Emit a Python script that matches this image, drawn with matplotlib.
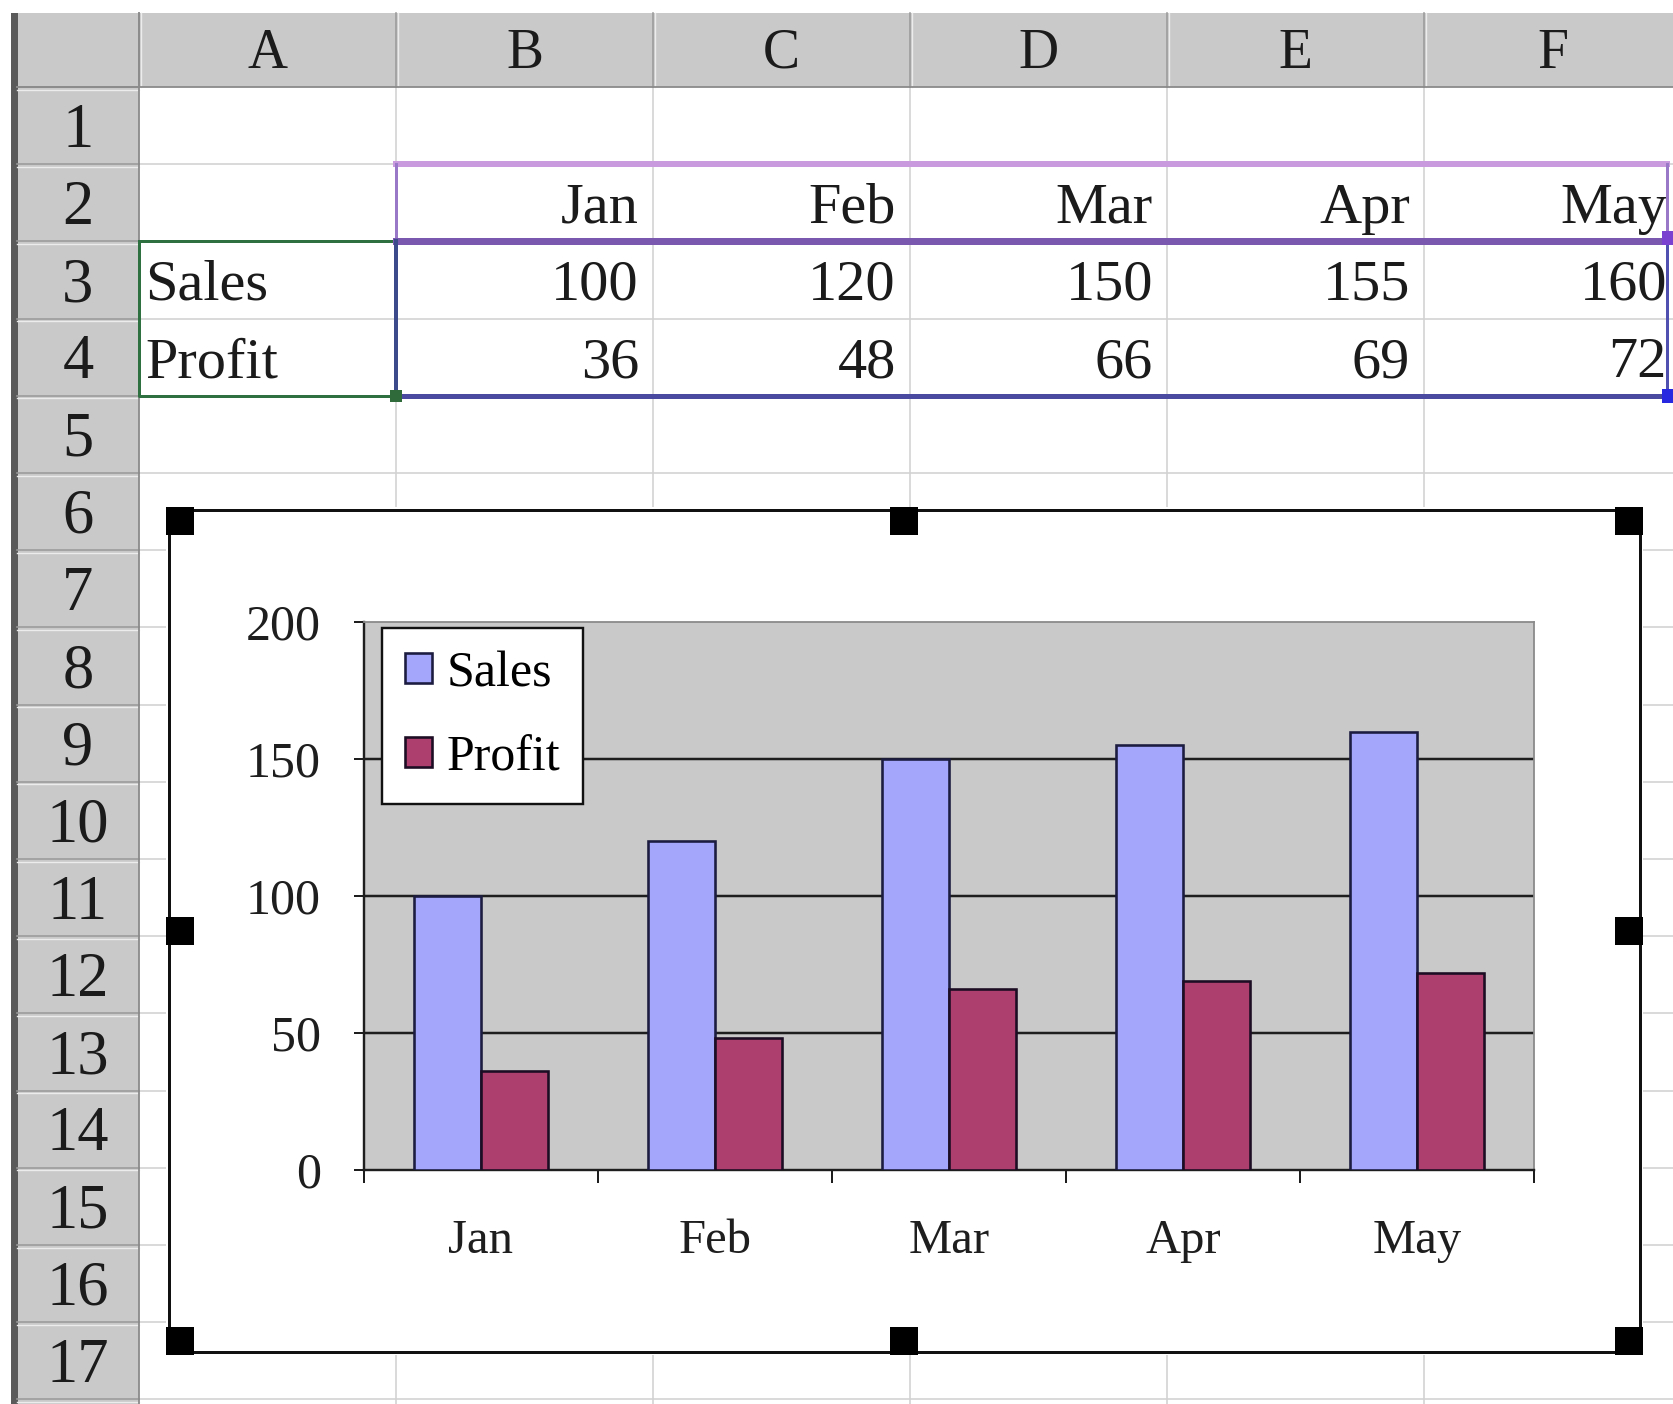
import numpy as np
import matplotlib.pyplot as plt
from matplotlib.patches import Rectangle

# data
months = ["Jan", "Feb", "Mar", "Apr", "May"]
sales = [100, 120, 150, 155, 160]
profit = [36, 48, 66, 69, 72]
col_letters = ["A", "B", "C", "D", "E", "F"]
row_numbers = list(range(1, 18))
y_ticks = [0, 50, 100, 150, 200]

W, H = 1674, 1404
PX = 0.72  # points per pixel at dpi 100

plt.rcParams['font.family'] = ['Liberation Serif', 'DejaVu Serif']

fig = plt.figure(figsize=(W / 100, H / 100), dpi=100)
bg = fig.add_axes([0, 0, 1, 1])
bg.set_xlim(0, W)
bg.set_ylim(H, 0)
bg.axis('off')

# sheet geometry (pixels)
left, top = 17, 13
hdr_w = 139
hdr_h = 87
col_w = 257
row_h = 77.2


def col_x(i):
    return hdr_w + i * col_w


def row_y(i):
    return hdr_h + i * row_h


hdr_col = '#c9c9c9'
grid_col = '#d2d2d2'
ink = '#1b1b1b'

# cell grid
for i in range(1, 7):
    bg.plot([col_x(i), col_x(i)], [hdr_h, H], color=grid_col, lw=1.6 * PX, zorder=1)
for k in range(1, 18):
    bg.plot([hdr_w, W], [row_y(k), row_y(k)], color=grid_col, lw=1.6 * PX, zorder=1)

# headers
bg.add_patch(Rectangle((left, top), W - left, hdr_h - top, fc=hdr_col, ec='none', zorder=2))
bg.add_patch(Rectangle((left, top), hdr_w - left, H - top, fc=hdr_col, ec='none', zorder=2))
bg.add_patch(Rectangle((11, top), 7, H - top, fc='#5a5a5a', ec='none', zorder=3))
for i in range(0, 7):
    bg.plot([col_x(i), col_x(i)], [top, hdr_h], color='#9a9a9a', lw=1.6 * PX, zorder=3)
    bg.plot([col_x(i) + 2.5, col_x(i) + 2.5], [top, hdr_h], color='#ececec', lw=1.4 * PX, zorder=3)
for k in range(0, 18):
    bg.plot([left, hdr_w], [row_y(k), row_y(k)], color='#9a9a9a', lw=1.6 * PX, zorder=3)
    bg.plot([left, hdr_w], [row_y(k) + 2.5, row_y(k) + 2.5], color='#ececec', lw=1.4 * PX, zorder=3)
bg.plot([hdr_w, hdr_w], [top, H], color='#8a8a8a', lw=1.8 * PX, zorder=3)
bg.plot([left, W], [hdr_h, hdr_h], color='#8a8a8a', lw=1.8 * PX, zorder=3)

for i, c in enumerate(col_letters):
    bg.text(col_x(i) + col_w / 2, 50 + 18, c, ha='center', va='baseline',
            fontsize=40, color=ink, zorder=4)
for k, n in enumerate(row_numbers):
    bg.text(78, row_y(k) + row_h / 2 + 21, str(n), ha='center', va='baseline',
            fontsize=45, color=ink, zorder=4)

# cell contents
cell_fs = 42
base_off = 20
for i, m in enumerate(months):
    bg.text(col_x(i + 2) - 14, row_y(1) + row_h / 2 + base_off, m, ha='right', va='baseline',
            fontsize=cell_fs, color=ink, zorder=4)
    bg.text(col_x(i + 2) - 14, row_y(2) + row_h / 2 + base_off, str(sales[i]), ha='right',
            va='baseline', fontsize=cell_fs, color=ink, zorder=4)
    bg.text(col_x(i + 2) - 14, row_y(3) + row_h / 2 + base_off, str(profit[i]), ha='right',
            va='baseline', fontsize=cell_fs, color=ink, zorder=4)
bg.text(col_x(0) + 6, row_y(2) + row_h / 2 + base_off, "Sales", ha='left', va='baseline',
        fontsize=cell_fs, color=ink, zorder=4)
bg.text(col_x(0) + 6, row_y(3) + row_h / 2 + base_off, "Profit", ha='left', va='baseline',
        fontsize=cell_fs, color=ink, zorder=4)

# range highlight borders
rx0, rx1 = col_x(1), 1667
bg.plot([rx0, rx1], [row_y(1), row_y(1)], color='#c99ade', lw=6 * PX, zorder=5)
bg.plot([rx0, rx0], [row_y(1), row_y(2)], color='#9a78c8', lw=3 * PX, zorder=5)
bg.plot([rx1, rx1], [row_y(1), row_y(2)], color='#9a78c8', lw=3 * PX, zorder=5)
bg.plot([rx0, rx1], [row_y(2), row_y(2)], color='#7a58b0', lw=7 * PX, zorder=5)
bg.plot([rx0, rx0], [row_y(2), row_y(4)], color='#3c4a8c', lw=4 * PX, zorder=5)
bg.plot([rx1, rx1], [row_y(2), row_y(4)], color='#5050b0', lw=3 * PX, zorder=5)
bg.plot([rx0, rx1], [row_y(4), row_y(4)], color='#4a4aa0', lw=5 * PX, zorder=5)
bg.plot([col_x(0), col_x(0), rx0], [row_y(2), row_y(4), row_y(4)], color='#2f7040', lw=3 * PX, zorder=5)
bg.plot([col_x(0), rx0], [row_y(2), row_y(2)], color='#2f7040', lw=3 * PX, zorder=4.5)
bg.add_patch(Rectangle((rx0 - 6, row_y(4) - 6), 12, 12, fc='#2f6a3a', ec='none', zorder=6))
bg.add_patch(Rectangle((rx1 - 5, row_y(4) - 7), 14, 14, fc='#2828e0', ec='none', zorder=6))
bg.add_patch(Rectangle((rx1 - 5, row_y(2) - 10), 14, 14, fc='#7a40d0', ec='none', zorder=6))

# chart object
cx0, cy0, cx1, cy1 = 166, 507, 1643, 1355
bg.add_patch(Rectangle((cx0, cy0), cx1 - cx0, cy1 - cy0, fc='white', ec='none', zorder=7))
bg.add_patch(Rectangle((cx0 + 3, cy0 + 3), cx1 - cx0 - 6, cy1 - cy0 - 6, fc='none',
                       ec='#111111', lw=3 * PX, zorder=8))
hs = 28
mx, my = (cx0 + cx1) / 2, (cy0 + cy1) / 2
for hx, hy in [(cx0, cy0), (mx - hs / 2, cy0), (cx1 - hs, cy0),
               (cx0, my - hs / 2), (cx1 - hs, my - hs / 2),
               (cx0, cy1 - hs), (mx - hs / 2, cy1 - hs), (cx1 - hs, cy1 - hs)]:
    bg.add_patch(Rectangle((hx, hy), hs, hs, fc='black', ec='none', zorder=9))

# plot area
ax_l, ax_r, ax_t, ax_b = 364, 1534, 622, 1170
ax = fig.add_axes([ax_l / W, 1 - ax_b / H, (ax_r - ax_l) / W, (ax_b - ax_t) / H])
ax.set_facecolor('#c9c9c9')
x = np.arange(len(months))
bw = 1 / 3.5
b1 = ax.bar(x - bw / 2, sales, bw, color='#a3a6fa', edgecolor='#1c1c40', lw=2.6 * PX, label='Sales', zorder=3)
b2 = ax.bar(x + bw / 2, profit, bw, color='#ad3f6e', edgecolor='#1c0c24', lw=2.6 * PX, label='Profit', zorder=3)
ax.set_xlim(-0.5, len(months) - 0.5)
ax.set_ylim(0, 200)
ax.set_yticks(y_ticks)
ax.set_yticklabels([str(v) for v in y_ticks])
for v in y_ticks[1:-1]:
    ax.axhline(v, color='#1e1e1e', lw=2.5 * PX, zorder=1)
for s in ['left', 'bottom']:
    ax.spines[s].set_color('#1e1e1e')
    ax.spines[s].set_linewidth(2.4 * PX)
for s in ['top', 'right']:
    ax.spines[s].set_color('#8a8a8a')
    ax.spines[s].set_linewidth(1.8 * PX)
ax.tick_params(axis='y', direction='out', length=7, width=2 * PX, pad=24,
               labelsize=36, colors='#1e1e1e')
ax.set_xticks(x)
ax.set_xticklabels(months)
ax.set_xticks(np.arange(len(months) + 1) - 0.5, minor=True)
ax.tick_params(axis='x', which='major', length=0, pad=35, labelsize=35, colors='#1e1e1e')
ax.tick_params(axis='x', which='minor', direction='out', length=9, width=2 * PX, colors='#1e1e1e')

leg = ax.legend(handles=[b1, b2], loc='upper left', bbox_to_anchor=(0.0154, 0.989),
                borderaxespad=0, fancybox=False, framealpha=1, facecolor='white',
                edgecolor='#111111', fontsize=36, handlelength=0.55, handleheight=0.55,
                handletextpad=0.3, labelspacing=0.75, borderpad=0.45)
leg.get_frame().set_linewidth(2.4 * PX)
leg.set_zorder(5)

fig.savefig('out.png', dpi=100)
